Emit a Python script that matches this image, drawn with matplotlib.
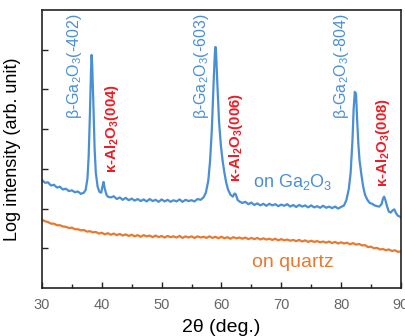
import matplotlib
matplotlib.use("Agg")
import matplotlib.pyplot as plt
from matplotlib.ticker import MultipleLocator

plt.rcParams['font.family'] = ['Liberation Sans', 'DejaVu Sans']
plt.rcParams['mathtext.fontset'] = 'custom'
plt.rcParams['mathtext.rm'] = 'Liberation Sans'
plt.rcParams['mathtext.it'] = 'Liberation Sans:italic'
plt.rcParams['mathtext.bf'] = 'Liberation Sans:bold'

# ---- data (2theta in deg, log intensity in arbitrary units) ----
ga_theta = [30.0, 30.5, 31.0, 31.5, 32.0, 32.5, 33.0, 33.5, 34.0, 34.5, 35.0, 35.5, 36.0, 36.5,
            37.0, 37.3, 37.6, 37.8, 38.0, 38.2, 38.3, 38.4, 38.6, 38.8, 39.0, 39.3, 39.6, 39.9,
            40.1, 40.3, 40.5, 40.8, 41.0, 41.5, 42.0, 42.5, 43.0, 43.5, 44.0, 44.5, 45.0, 45.5,
            46.0, 46.5, 47.0, 47.5, 48.0, 48.5, 49.0, 49.5, 50.0, 50.5, 51.0, 51.5, 52.0, 52.5,
            53.0, 53.5, 54.0, 54.5, 55.0, 55.5, 56.0, 56.5, 57.0, 57.4, 57.8, 58.1, 58.4, 58.7,
            58.9, 59.0, 59.1, 59.3, 59.6, 59.9, 60.2, 60.5, 60.8, 61.1, 61.5, 61.9, 62.2, 62.4,
            62.7, 63.0, 63.5, 64.0, 64.5, 65.0, 65.5, 66.0, 66.5, 67.0, 67.5, 68.0, 68.5, 69.0,
            69.5, 70.0, 70.5, 71.0, 71.5, 72.0, 72.5, 73.0, 73.5, 74.0, 74.5, 75.0, 75.5, 76.0,
            76.5, 77.0, 77.5, 78.0, 78.5, 79.0, 79.5, 80.0, 80.5, 80.9, 81.3, 81.6, 81.9, 82.1,
            82.3, 82.4, 82.5, 82.7, 82.9, 83.1, 83.4, 83.7, 84.0, 84.4, 84.8, 85.2, 85.6, 86.0,
            86.4, 86.8, 87.0, 87.2, 87.4, 87.7, 88.0, 88.3, 88.6, 88.9, 89.2, 89.5, 89.8, 90.0]
ga_int = [2.72, 2.65, 2.66, 2.58, 2.60, 2.53, 2.55, 2.48, 2.50, 2.44, 2.46, 2.41, 2.43, 2.37,
          2.40, 2.47, 2.75, 3.30, 4.30, 5.50, 5.87, 5.60, 4.60, 3.50, 2.90, 2.55, 2.42, 2.40,
          2.55, 2.67, 2.50, 2.34, 2.30, 2.28, 2.31, 2.24, 2.28, 2.22, 2.27, 2.21, 2.25, 2.20,
          2.24, 2.19, 2.23, 2.18, 2.24, 2.19, 2.22, 2.17, 2.23, 2.18, 2.22, 2.17, 2.21, 2.18,
          2.23, 2.17, 2.22, 2.19, 2.21, 2.18, 2.24, 2.22, 2.28, 2.40, 2.70, 3.20, 4.00, 5.20,
          5.90, 6.07, 5.95, 5.20, 4.20, 3.60, 3.20, 2.90, 2.65, 2.48, 2.35, 2.30, 2.38, 2.36,
          2.22, 2.18, 2.14, 2.17, 2.11, 2.15, 2.09, 2.13, 2.08, 2.12, 2.07, 2.12, 2.08, 2.11,
          2.06, 2.10, 2.07, 2.11, 2.05, 2.09, 2.04, 2.09, 2.05, 2.08, 2.03, 2.08, 2.03, 2.06,
          2.02, 2.07, 2.02, 2.05, 2.01, 2.05, 2.00, 2.04, 2.08, 2.22, 2.50, 2.90, 3.70, 4.50,
          4.94, 4.85, 4.90, 4.20, 3.60, 3.20, 2.85, 2.55, 2.35, 2.22, 2.14, 2.12, 2.08, 2.06,
          2.05, 2.12, 2.25, 2.30, 2.22, 2.05, 1.92, 1.90, 1.95, 1.98, 1.88, 1.82, 1.80, 1.78]

qz_theta = [30.0, 30.5, 31.0, 31.5, 32.0, 32.5, 33.0, 33.5, 34.0, 34.5, 35.0, 35.5, 36.0, 36.5,
            37.0, 37.5, 38.0, 38.5, 39.0, 39.5, 40.0, 40.5, 41.0, 41.5, 42.0, 42.5, 43.0, 43.5,
            44.0, 44.5, 45.0, 45.5, 46.0, 46.5, 47.0, 47.5, 48.0, 48.5, 49.0, 49.5, 50.0, 50.5,
            51.0, 51.5, 52.0, 52.5, 53.0, 53.5, 54.0, 54.5, 55.0, 55.5, 56.0, 56.5, 57.0, 57.5,
            58.0, 58.5, 59.0, 59.5, 60.0, 60.5, 61.0, 61.5, 62.0, 62.5, 63.0, 63.5, 64.0, 64.5,
            65.0, 65.5, 66.0, 66.5, 67.0, 67.5, 68.0, 68.5, 69.0, 69.5, 70.0, 70.5, 71.0, 71.5,
            72.0, 72.5, 73.0, 73.5, 74.0, 74.5, 75.0, 75.5, 76.0, 76.5, 77.0, 77.5, 78.0, 78.5,
            79.0, 79.5, 80.0, 80.5, 81.0, 81.5, 82.0, 82.5, 83.0, 83.5, 84.0, 84.5, 85.0, 85.5,
            86.0, 86.5, 87.0, 87.5, 88.0, 88.5, 89.0, 89.5, 90.0]
qz_int = [1.72, 1.68, 1.66, 1.62, 1.62, 1.58, 1.58, 1.55, 1.54, 1.51, 1.52, 1.48, 1.48, 1.45,
          1.46, 1.42, 1.43, 1.40, 1.41, 1.37, 1.39, 1.35, 1.38, 1.34, 1.37, 1.33, 1.36, 1.32,
          1.35, 1.31, 1.34, 1.30, 1.33, 1.29, 1.33, 1.30, 1.32, 1.28, 1.32, 1.28, 1.31, 1.27,
          1.31, 1.28, 1.30, 1.27, 1.31, 1.26, 1.30, 1.27, 1.30, 1.26, 1.30, 1.27, 1.29, 1.26,
          1.30, 1.26, 1.29, 1.25, 1.29, 1.25, 1.28, 1.24, 1.28, 1.25, 1.27, 1.24, 1.27, 1.23,
          1.26, 1.23, 1.26, 1.22, 1.25, 1.22, 1.24, 1.21, 1.24, 1.20, 1.23, 1.20, 1.22, 1.19,
          1.21, 1.18, 1.21, 1.17, 1.20, 1.16, 1.19, 1.16, 1.18, 1.15, 1.17, 1.14, 1.17, 1.13,
          1.16, 1.12, 1.15, 1.12, 1.14, 1.10, 1.13, 1.09, 1.11, 1.07, 1.08, 1.03, 1.04, 1.00,
          1.01, 0.97, 0.98, 0.95, 0.97, 0.93, 0.95, 0.91, 0.92]

beta_labels = [r"β-Ga$_2$O$_3$(-402)", r"β-Ga$_2$O$_3$(-603)", r"β-Ga$_2$O$_3$(-804)"]
beta_pos = [35.5, 56.7, 80.1]
kappa_labels = [r"κ-Al$_\mathbf{2}$O$_\mathbf{3}$(004)", r"κ-Al$_\mathbf{2}$O$_\mathbf{3}$(006)",
                r"κ-Al$_\mathbf{2}$O$_\mathbf{3}$(008)"]
kappa_pos = [41.7, 62.4, 87.0]
kappa_base = [2.9, 2.67, 2.55]

blue = '#4a8fd6'
orange = '#e8792e'
red = '#ee1c25'

fig = plt.figure(figsize=(4.06, 3.36), dpi=100)
ax = fig.add_axes([0.1034, 0.143, 0.884, 0.827])

ax.plot(ga_theta, ga_int, color=blue, lw=1.6)
ax.plot(qz_theta, qz_int, color=orange, lw=1.6)

for lab, xp in zip(beta_labels, beta_pos):
    ax.text(xp, 6.93, lab, rotation=90, color=blue, fontsize=11.5,
            ha='center', va='top')
for lab, xp, yb in zip(kappa_labels, kappa_pos, kappa_base):
    ax.text(xp, yb, lab, rotation=90, color=red, fontsize=10.8, fontweight='bold',
            ha='center', va='bottom')

ax.text(65.3, 2.67, r"on Ga$_2$O$_3$", color=blue, fontsize=13, ha='left', va='center')
ax.text(65.1, 0.65, "on quartz", color=orange, fontsize=14, ha='left', va='center')

ax.set_xlim(30, 90)
ax.set_ylim(0, 7)
ax.xaxis.set_major_locator(MultipleLocator(10))
ax.xaxis.set_minor_locator(MultipleLocator(5))
ax.set_yticks([1, 2, 3, 4, 5, 6])
ax.set_yticklabels([])
ax.tick_params(axis='both', which='both', direction='in', top=False, right=False,
               width=1.0, colors='#222222', labelcolor='#666666', labelsize=10.5, pad=7)
ax.tick_params(which='major', length=4)
ax.tick_params(which='minor', length=3)
for s in ax.spines.values():
    s.set_linewidth(1.2)
    s.set_color('#222222')

ax.set_xlabel("2θ (deg.)", fontsize=14, labelpad=5)
ax.set_ylabel("Log intensity (arb. unit)", fontsize=13, labelpad=8)

fig.savefig("out.png", dpi=100)
